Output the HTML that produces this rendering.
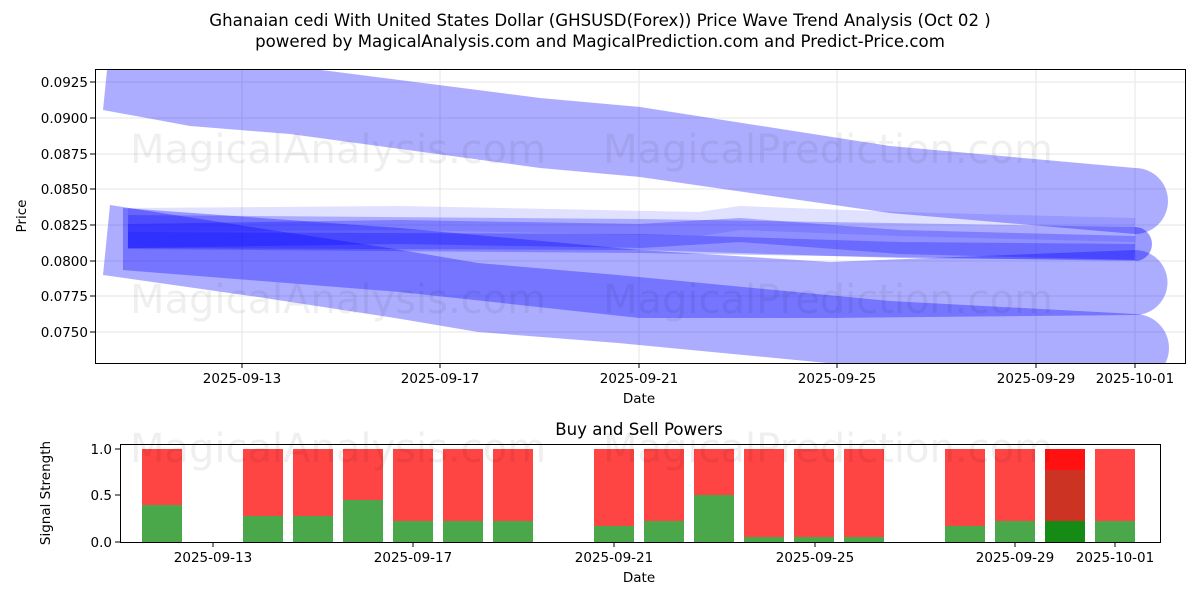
<!DOCTYPE html>
<html><head><meta charset="utf-8"><style>
body{margin:0;background:#fff}
svg text{font-family:"DejaVu Sans","Liberation Sans",sans-serif;fill:#000}
</style></head><body>
<svg width="1200" height="600" viewBox="0 0 1200 600" xmlns="http://www.w3.org/2000/svg">
<rect width="1200" height="600" fill="#fff"/>
<text x="600" y="26" font-size="16.6" text-anchor="middle">Ghanaian cedi With United States Dollar (GHSUSD(Forex)) Price Wave Trend Analysis (Oct 02 )</text>
<text x="600" y="47" font-size="16.6" text-anchor="middle">powered by MagicalAnalysis.com and MagicalPrediction.com and Predict-Price.com</text>
<defs><clipPath id="c1"><rect x="95" y="69" width="1090" height="294"/></clipPath>
<clipPath id="c2"><rect x="120" y="444" width="1040" height="98"/></clipPath></defs>
<g stroke="#e5e5e5" stroke-width="1">
<line x1="242" y1="69" x2="242" y2="363"/><line x1="440" y1="69" x2="440" y2="363"/><line x1="639" y1="69" x2="639" y2="363"/><line x1="837" y1="69" x2="837" y2="363"/><line x1="1036" y1="69" x2="1036" y2="363"/><line x1="1135" y1="69" x2="1135" y2="363"/>
<line x1="95" y1="82" x2="1185" y2="82"/><line x1="95" y1="118" x2="1185" y2="118"/><line x1="95" y1="154" x2="1185" y2="154"/><line x1="95" y1="189" x2="1185" y2="189"/><line x1="95" y1="225" x2="1185" y2="225"/><line x1="95" y1="261" x2="1185" y2="261"/><line x1="95" y1="296" x2="1185" y2="296"/><line x1="95" y1="332" x2="1185" y2="332"/>
</g>
<g clip-path="url(#c1)">
<path d="M110,40 L190,58 290,66 540,98 640,107 890,146 1135,168 A33,33 0 0 1 1135,234 L890,213 640,177 540,168 290,134 190,126 103,110 Z" fill="rgba(0,0,255,0.32)"/>
<path d="M110,205 L258,228 395,249 478,263 618,275 890,301 1135,314 A34,34 0 0 1 1135,382 L890,369 618,343 478,332 395,318 258,297 103,275 Z" fill="rgba(0,0,255,0.32)"/>
<path d="M123,208 L400,228 640,250 830,262 1135,250 A32.5,32.5 0 0 1 1135,315 L830,318 640,318 400,292 123,270 Z" fill="rgba(0,0,255,0.32)"/>
<g fill="none" stroke-linejoin="round">
<polyline points="128,220 400,218 700,224 740,218 900,224 1135,230" stroke="rgba(0,0,255,0.12)" stroke-width="24"/>
<polyline points="128,232 640,236 1135,244" stroke="rgba(0,0,255,0.24)" stroke-width="34"/>
<polyline points="128,236 400,232 640,236 740,230 900,242 1135,248" stroke="rgba(0,0,255,0.26)" stroke-width="24"/>
<polyline points="128,240 640,242 900,250 1135,252" stroke="rgba(0,0,255,0.26)" stroke-width="16"/>
</g>
<path d="M1135,227 A17,17 0 0 1 1135,261 Z" fill="rgba(0,0,255,0.4)"/>
</g>
<g font-size="40" fill="#000" opacity="0.06">
<text x="130" y="163">MagicalAnalysis.com</text><text x="603" y="163">MagicalPrediction.com</text>
<text x="130" y="313">MagicalAnalysis.com</text><text x="603" y="313">MagicalPrediction.com</text>
</g>
<rect x="95.5" y="69.5" width="1090" height="294" fill="none" stroke="#000"/>
<g font-size="13.5" text-anchor="end">
<text x="88" y="87">0.0925</text><text x="88" y="123">0.0900</text><text x="88" y="159">0.0875</text><text x="88" y="194">0.0850</text><text x="88" y="230">0.0825</text><text x="88" y="266">0.0800</text><text x="88" y="301">0.0775</text><text x="88" y="337">0.0750</text>
</g>
<g stroke="#000"><line x1="90" y1="82" x2="95" y2="82"/><line x1="90" y1="118" x2="95" y2="118"/><line x1="90" y1="154" x2="95" y2="154"/><line x1="90" y1="189" x2="95" y2="189"/><line x1="90" y1="225" x2="95" y2="225"/><line x1="90" y1="261" x2="95" y2="261"/><line x1="90" y1="296" x2="95" y2="296"/><line x1="90" y1="332" x2="95" y2="332"/>
<line x1="242" y1="364" x2="242" y2="368"/><line x1="440" y1="364" x2="440" y2="368"/><line x1="639" y1="364" x2="639" y2="368"/><line x1="837" y1="364" x2="837" y2="368"/><line x1="1036" y1="364" x2="1036" y2="368"/><line x1="1135" y1="364" x2="1135" y2="368"/></g>
<g font-size="13.5" text-anchor="middle">
<text x="242" y="383">2025-09-13</text><text x="440" y="383">2025-09-17</text><text x="639" y="383">2025-09-21</text><text x="837" y="383">2025-09-25</text><text x="1036" y="383">2025-09-29</text><text x="1135" y="383">2025-10-01</text>
<text x="639" y="403">Date</text>
</g>
<text x="26" y="216" font-size="13.5" text-anchor="middle" transform="rotate(-90 26 216)">Price</text>

<text x="639" y="435" font-size="16.6" text-anchor="middle">Buy and Sell Powers</text>
<g clip-path="url(#c2)">
<rect x="142" y="449" width="40" height="93" fill="#ff4444"/><rect x="142" y="505" width="40" height="37" fill="#4aa84a"/>
<rect x="243" y="449" width="40" height="93" fill="#ff4444"/><rect x="243" y="516" width="40" height="26" fill="#4aa84a"/>
<rect x="293" y="449" width="40" height="93" fill="#ff4444"/><rect x="293" y="516" width="40" height="26" fill="#4aa84a"/>
<rect x="343" y="449" width="40" height="93" fill="#ff4444"/><rect x="343" y="500" width="40" height="42" fill="#4aa84a"/>
<rect x="393" y="449" width="40" height="93" fill="#ff4444"/><rect x="393" y="521" width="40" height="21" fill="#4aa84a"/>
<rect x="443" y="449" width="40" height="93" fill="#ff4444"/><rect x="443" y="521" width="40" height="21" fill="#4aa84a"/>
<rect x="493" y="449" width="40" height="93" fill="#ff4444"/><rect x="493" y="521" width="40" height="21" fill="#4aa84a"/>
<rect x="594" y="449" width="40" height="93" fill="#ff4444"/><rect x="594" y="526" width="40" height="16" fill="#4aa84a"/>
<rect x="644" y="449" width="40" height="93" fill="#ff4444"/><rect x="644" y="521" width="40" height="21" fill="#4aa84a"/>
<rect x="694" y="449" width="40" height="93" fill="#ff4444"/><rect x="694" y="495" width="40" height="47" fill="#4aa84a"/>
<rect x="744" y="449" width="40" height="93" fill="#ff4444"/><rect x="744" y="537" width="40" height="5" fill="#4aa84a"/>
<rect x="794" y="449" width="40" height="93" fill="#ff4444"/><rect x="794" y="537" width="40" height="5" fill="#4aa84a"/>
<rect x="844" y="449" width="40" height="93" fill="#ff4444"/><rect x="844" y="537" width="40" height="5" fill="#4aa84a"/>
<rect x="945" y="449" width="40" height="93" fill="#ff4444"/><rect x="945" y="526" width="40" height="16" fill="#4aa84a"/>
<rect x="995" y="449" width="40" height="93" fill="#ff4444"/><rect x="995" y="521" width="40" height="21" fill="#4aa84a"/>
<rect x="1045" y="449" width="40" height="93" fill="#ff1111"/><rect x="1045" y="470" width="40" height="51" fill="#cc3322"/><rect x="1045" y="521" width="40" height="21" fill="#158a15"/>
<rect x="1095" y="449" width="40" height="93" fill="#ff4444"/><rect x="1095" y="521" width="40" height="21" fill="#4aa84a"/>
</g>
<g font-size="40" fill="#000" opacity="0.06">
<text x="130" y="462">MagicalAnalysis.com</text><text x="603" y="462">MagicalPrediction.com</text>
</g>
<rect x="120.5" y="444.5" width="1040" height="98" fill="none" stroke="#000"/>
<g stroke="#000"><line x1="115" y1="449" x2="120" y2="449"/><line x1="115" y1="495" x2="120" y2="495"/><line x1="115" y1="542" x2="120" y2="542"/>
<line x1="213" y1="543" x2="213" y2="547"/><line x1="413" y1="543" x2="413" y2="547"/><line x1="614" y1="543" x2="614" y2="547"/><line x1="815" y1="543" x2="815" y2="547"/><line x1="1015" y1="543" x2="1015" y2="547"/><line x1="1115" y1="543" x2="1115" y2="547"/></g>
<g font-size="13.5" text-anchor="end"><text x="112" y="454">1.0</text><text x="112" y="500">0.5</text><text x="112" y="547">0.0</text></g>
<g font-size="13.5" text-anchor="middle">
<text x="213" y="562">2025-09-13</text><text x="413" y="562">2025-09-17</text><text x="614" y="562">2025-09-21</text><text x="815" y="562">2025-09-25</text><text x="1015" y="562">2025-09-29</text><text x="1115" y="562">2025-10-01</text>
<text x="639" y="582">Date</text></g>
<text x="50" y="493" font-size="13.5" text-anchor="middle" transform="rotate(-90 50 493)">Signal Strength</text>
</svg>
</body></html>
